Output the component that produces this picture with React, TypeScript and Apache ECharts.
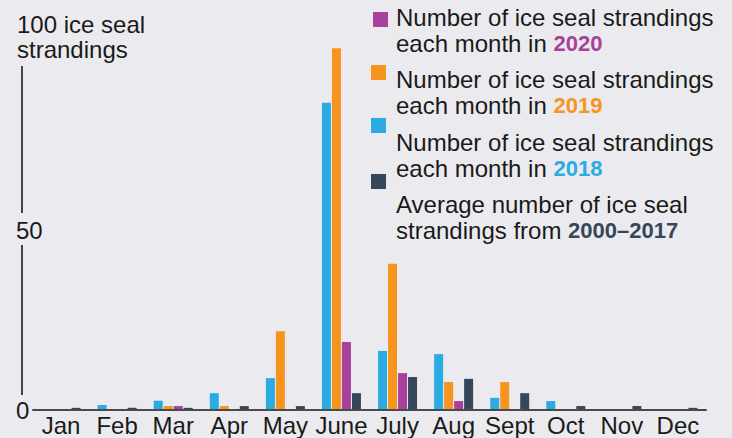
import React, { useEffect, useRef } from "react";
import * as echarts from "echarts";

const months = ["Jan", "Feb", "Mar", "Apr", "May", "June", "July", "Aug", "Sept", "Oct", "Nov", "Dec"];
const values2018 = [0, 1.4, 2.6, 4.7, 8.9, 85.8, 16.5, 15.6, 3.4, 2.5, 0, 0];
const values2019 = [0, 0, 1.1, 1.1, 22, 101, 40.8, 7.8, 7.8, 0, 0, 0];
const values2020 = [0, 0, 1.1, 0, 0, 19, 10.3, 2.5, 0, 0, 0, 0];
const valuesAvg = [0.6, 0.6, 0.6, 1.1, 1.1, 4.7, 9.2, 8.7, 4.7, 1.1, 1.1, 0.6];
const yTickLabels = [0, 50];

const C2018 = "#2AACE2";
const C2019 = "#F7941E";
const C2020 = "#A7419A";
const CAVG = "#36475A";
const BG = "#EBEBEF";
const TXT = "#1a1a1a";
const FONT = "Liberation Sans, Arial, sans-serif";
const FS = 24;

export default function App() {
  const ref = useRef<HTMLDivElement>(null);
  useEffect(() => {
    if (!ref.current) return;
    const chart = echarts.init(ref.current, undefined, { renderer: "svg" });
    const barBase = { type: "bar", barWidth: 9, barGap: "11.1%", silent: true };
    const legendItems = [
      { color: C2020, sq: [373, 12], top: 5, text: "Number of ice seal strandings\neach month in {y|2020}" },
      { color: C2019, sq: [371, 65], top: 67, text: "Number of ice seal strandings\neach month in {y|2019}" },
      { color: C2018, sq: [371, 118], top: 130, text: "Number of ice seal strandings\neach month in {y|2018}" },
      { color: CAVG, sq: [371, 174], top: 192, text: "Average number of ice seal\nstrandings from {y|2000–2017}" },
    ];
    const graphics: any[] = [
      { type: "line", shape: { x1: 22, y1: 66, x2: 22, y2: 213 }, style: { stroke: "#444", lineWidth: 2 } },
      { type: "line", shape: { x1: 22, y1: 245, x2: 22, y2: 395 }, style: { stroke: "#444", lineWidth: 2 } },
    ];
    legendItems.forEach((it) => {
      graphics.push({ type: "rect", shape: { x: it.sq[0], y: it.sq[1], width: 15, height: 15 }, style: { fill: it.color } });
      graphics.push({
        type: "text",
        x: 396,
        y: it.top,
        style: {
          text: it.text,
          fill: TXT,
          fontSize: FS,
          fontFamily: FONT,
          lineHeight: 25.5,
          verticalAlign: "top",
          rich: { y: { fill: it.color, fontWeight: "bold", fontSize: 22, fontFamily: FONT, lineHeight: 25.5 } },
        },
      });
    });
    chart.setOption({
      animation: false,
      backgroundColor: BG,
      title: {
        text: "100 ice seal\nstrandings",
        left: 17,
        top: 12,
        padding: 0,
        textStyle: { color: TXT, fontSize: FS, fontWeight: "normal", fontFamily: FONT, lineHeight: 25 },
      },
      grid: { left: 33, right: 26, top: 16, bottom: 28 },
      xAxis: {
        type: "category",
        data: months,
        z: 5,
        axisLine: { lineStyle: { color: "#4a4a4a", width: 2 } },
        axisTick: { show: false },
        axisLabel: { color: TXT, fontSize: FS, fontFamily: FONT, margin: 3, interval: 0 },
      },
      yAxis: {
        type: "value",
        min: 0,
        max: 110,
        interval: 50,
        axisLine: { show: false },
        axisTick: { show: false },
        splitLine: { show: false },
        axisLabel: {
          color: TXT,
          fontSize: FS,
          fontFamily: FONT,
          align: "left",
          margin: 17,
          formatter: (v: number) => (yTickLabels.includes(v) ? String(v) : ""),
        },
      },
      series: [
        { ...barBase, name: "2018", data: values2018, itemStyle: { color: C2018 } },
        { ...barBase, name: "2019", data: values2019, itemStyle: { color: C2019 } },
        { ...barBase, name: "2020", data: values2020, itemStyle: { color: C2020 } },
        { ...barBase, name: "2000–2017", data: valuesAvg, itemStyle: { color: CAVG } },
      ],
      graphic: graphics,
    });
    return () => chart.dispose();
  }, []);
  return <div ref={ref} style={{ position: "fixed", left: 0, top: 0, width: 732, height: 438 }} />;
}
